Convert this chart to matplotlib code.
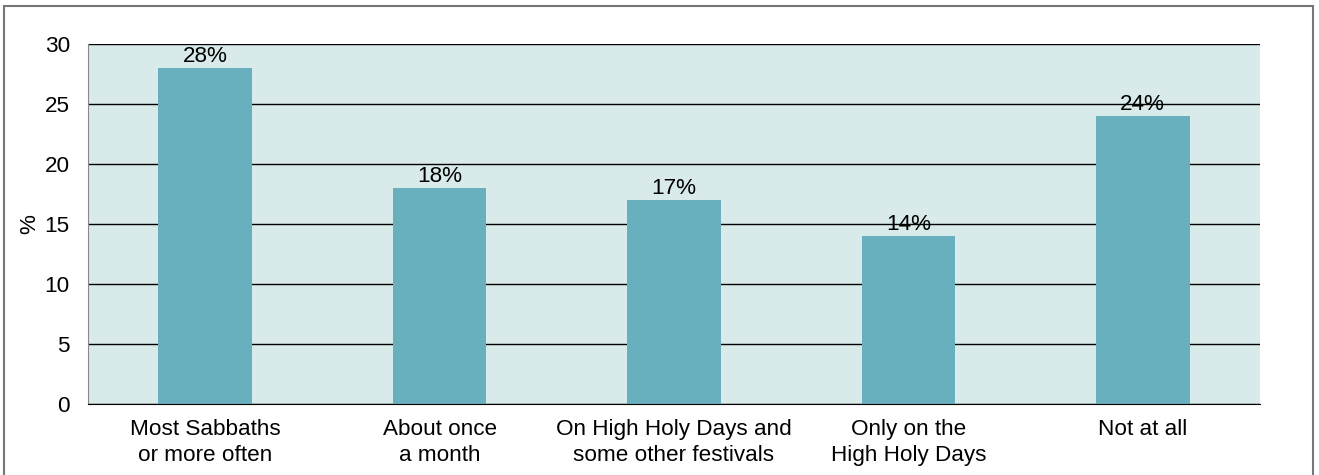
import matplotlib.pyplot as plt
from matplotlib.patches import Rectangle

categories = ['Most Sabbaths\nor more often', 'About once\na month',
              'On High Holy Days and\nsome other festivals',
              'Only on the\nHigh Holy Days', 'Not at all']
values = [28, 18, 17, 14, 24]
yticks = [0, 5, 10, 15, 20, 25, 30]

plt.rcParams['font.family'] = ['Liberation Sans', 'DejaVu Sans']
fs = 16.2

fig = plt.figure(figsize=(13.19, 4.75), dpi=100)
ax = fig.add_axes([88/1319, 1-404/475, (1260-88)/1319, 360/475])

# outer frame
fig.patches.append(Rectangle((4/1319, -0.05), (1313-4)/1319, 1.05 - 6/475,
                             transform=fig.transFigure, fill=False,
                             edgecolor='#777777', linewidth=1.5))

ax.set_facecolor('#d9eaea')
x = range(len(categories))
ax.bar(x, values, width=0.4, color='#69b0bf', zorder=3)
for i, v in zip(x, values):
    ax.text(i, v + 0.05, f'{v}%', ha='center', va='bottom', fontsize=fs, zorder=4)

ax.set_xlim(-0.5, 4.5)
ax.set_ylim(0, 30)
ax.set_yticks(yticks)
ax.grid(axis='y', color='black', linewidth=1, zorder=1)
ax.set_xticks(list(x))
ax.set_xticklabels(categories, fontsize=fs, linespacing=1.3)
ax.tick_params(axis='y', labelsize=fs, length=0, pad=13)
ax.tick_params(axis='x', length=0, pad=11)
ax.set_ylabel('%', fontsize=fs, labelpad=3)

for s in ['top', 'right']:
    ax.spines[s].set_visible(False)
ax.spines['left'].set_color('#888888')
ax.spines['bottom'].set_color('black')
ax.spines['bottom'].set_zorder(5)

fig.savefig('out.png', dpi=100)
